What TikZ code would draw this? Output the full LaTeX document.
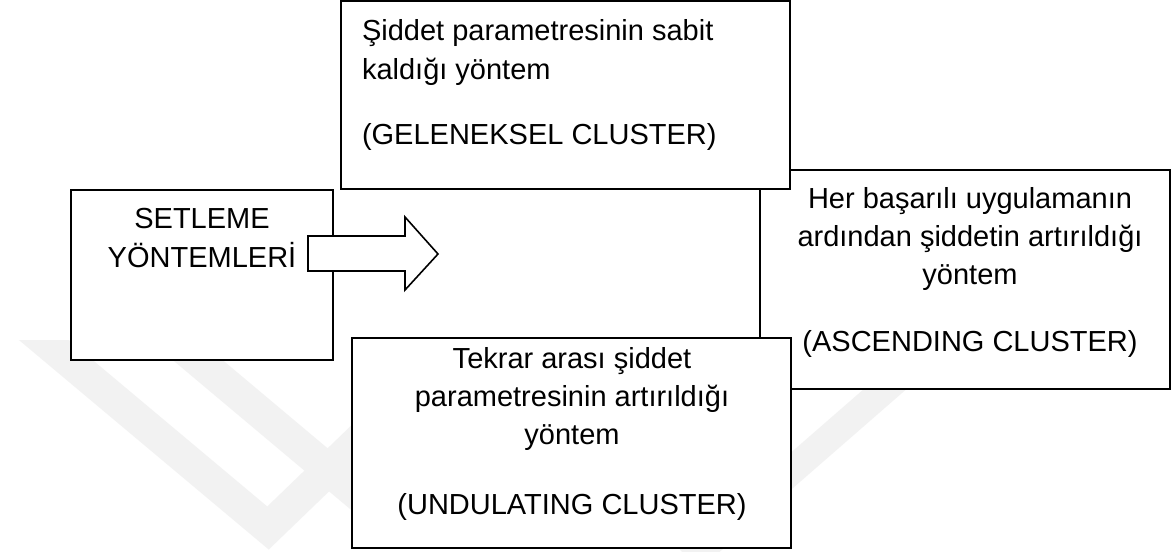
\documentclass[tikz,border=0pt]{standalone}
\usepackage{fontspec}
\setmainfont{Liberation Sans}
\begin{document}
\begin{tikzpicture}[x=0.75pt,y=-0.75pt,
  box/.style={draw=black,line width=1.5pt,fill=white,rectangle,inner sep=0pt,outer sep=0pt},
  txt/.style={inner sep=0pt,outer sep=0pt,font=\fontsize{21.75pt}{28pt}\selectfont},
  wmark/.style={draw=black!5,line cap=butt,line join=miter}]
\useasboundingbox (0,0) rectangle (1174,551);
\fill[white] (0,0) rectangle (1174,551);
% faint watermark bands
\begin{scope}
  \clip (0,340) rectangle (1174,551);
  \draw[wmark,line width=24pt] (20,320) -- (268,528) -- (380,420);
  \draw[wmark,line width=24pt] (150,320) -- (400,530);
  \draw[wmark,line width=21pt] (930,350) -- (689,560);
\end{scope}
% boxes (back to front)
\node[box,minimum width=307.5pt,minimum height=164.25pt] (asc) at (965,279.5) {};
\node[box,minimum width=336.75pt,minimum height=141pt] (gel) at (565.5,95) {};
\node[box,minimum width=329.25pt,minimum height=157.5pt] (und) at (571.5,443) {};
\node[box,minimum width=196.5pt,minimum height=127.5pt] (set) at (202,275) {};
% block arrow
\draw[line width=1.2pt,fill=white,line join=miter]
  (308,236) -- (405,236) -- (405,217) -- (438,254) -- (405,290) -- (405,271) -- (308,271) -- cycle;
% texts
\node[txt,anchor=base] (s1) at (202,228) {SETLEME};
\node[txt,anchor=base] (s2) at (202,267) {YÖNTEMLERİ};
\node[txt,anchor=base west] (g1) at (362,40) {Şiddet parametresinin sabit};
\node[txt,anchor=base west] (g2) at (362,79) {kaldığı yöntem};
\node[txt,anchor=base west] (g3) at (362,144) {(GELENEKSEL CLUSTER)};
\node[txt,anchor=base] (a1) at (970,208) {Her başarılı uygulamanın};
\node[txt,anchor=base] (a2) at (970,246) {ardından şiddetin artırıldığı};
\node[txt,anchor=base] (a3) at (970,284) {yöntem};
\node[txt,anchor=base] (a4) at (970,351) {(ASCENDING CLUSTER)};
\node[txt,anchor=base] (u1) at (572,368) {Tekrar arası şiddet};
\node[txt,anchor=base] (u2) at (572,406) {parametresinin artırıldığı};
\node[txt,anchor=base] (u3) at (572,444) {yöntem};
\node[txt,anchor=base] (u4) at (572,514) {(UNDULATING CLUSTER)};
\end{tikzpicture}
\end{document}
